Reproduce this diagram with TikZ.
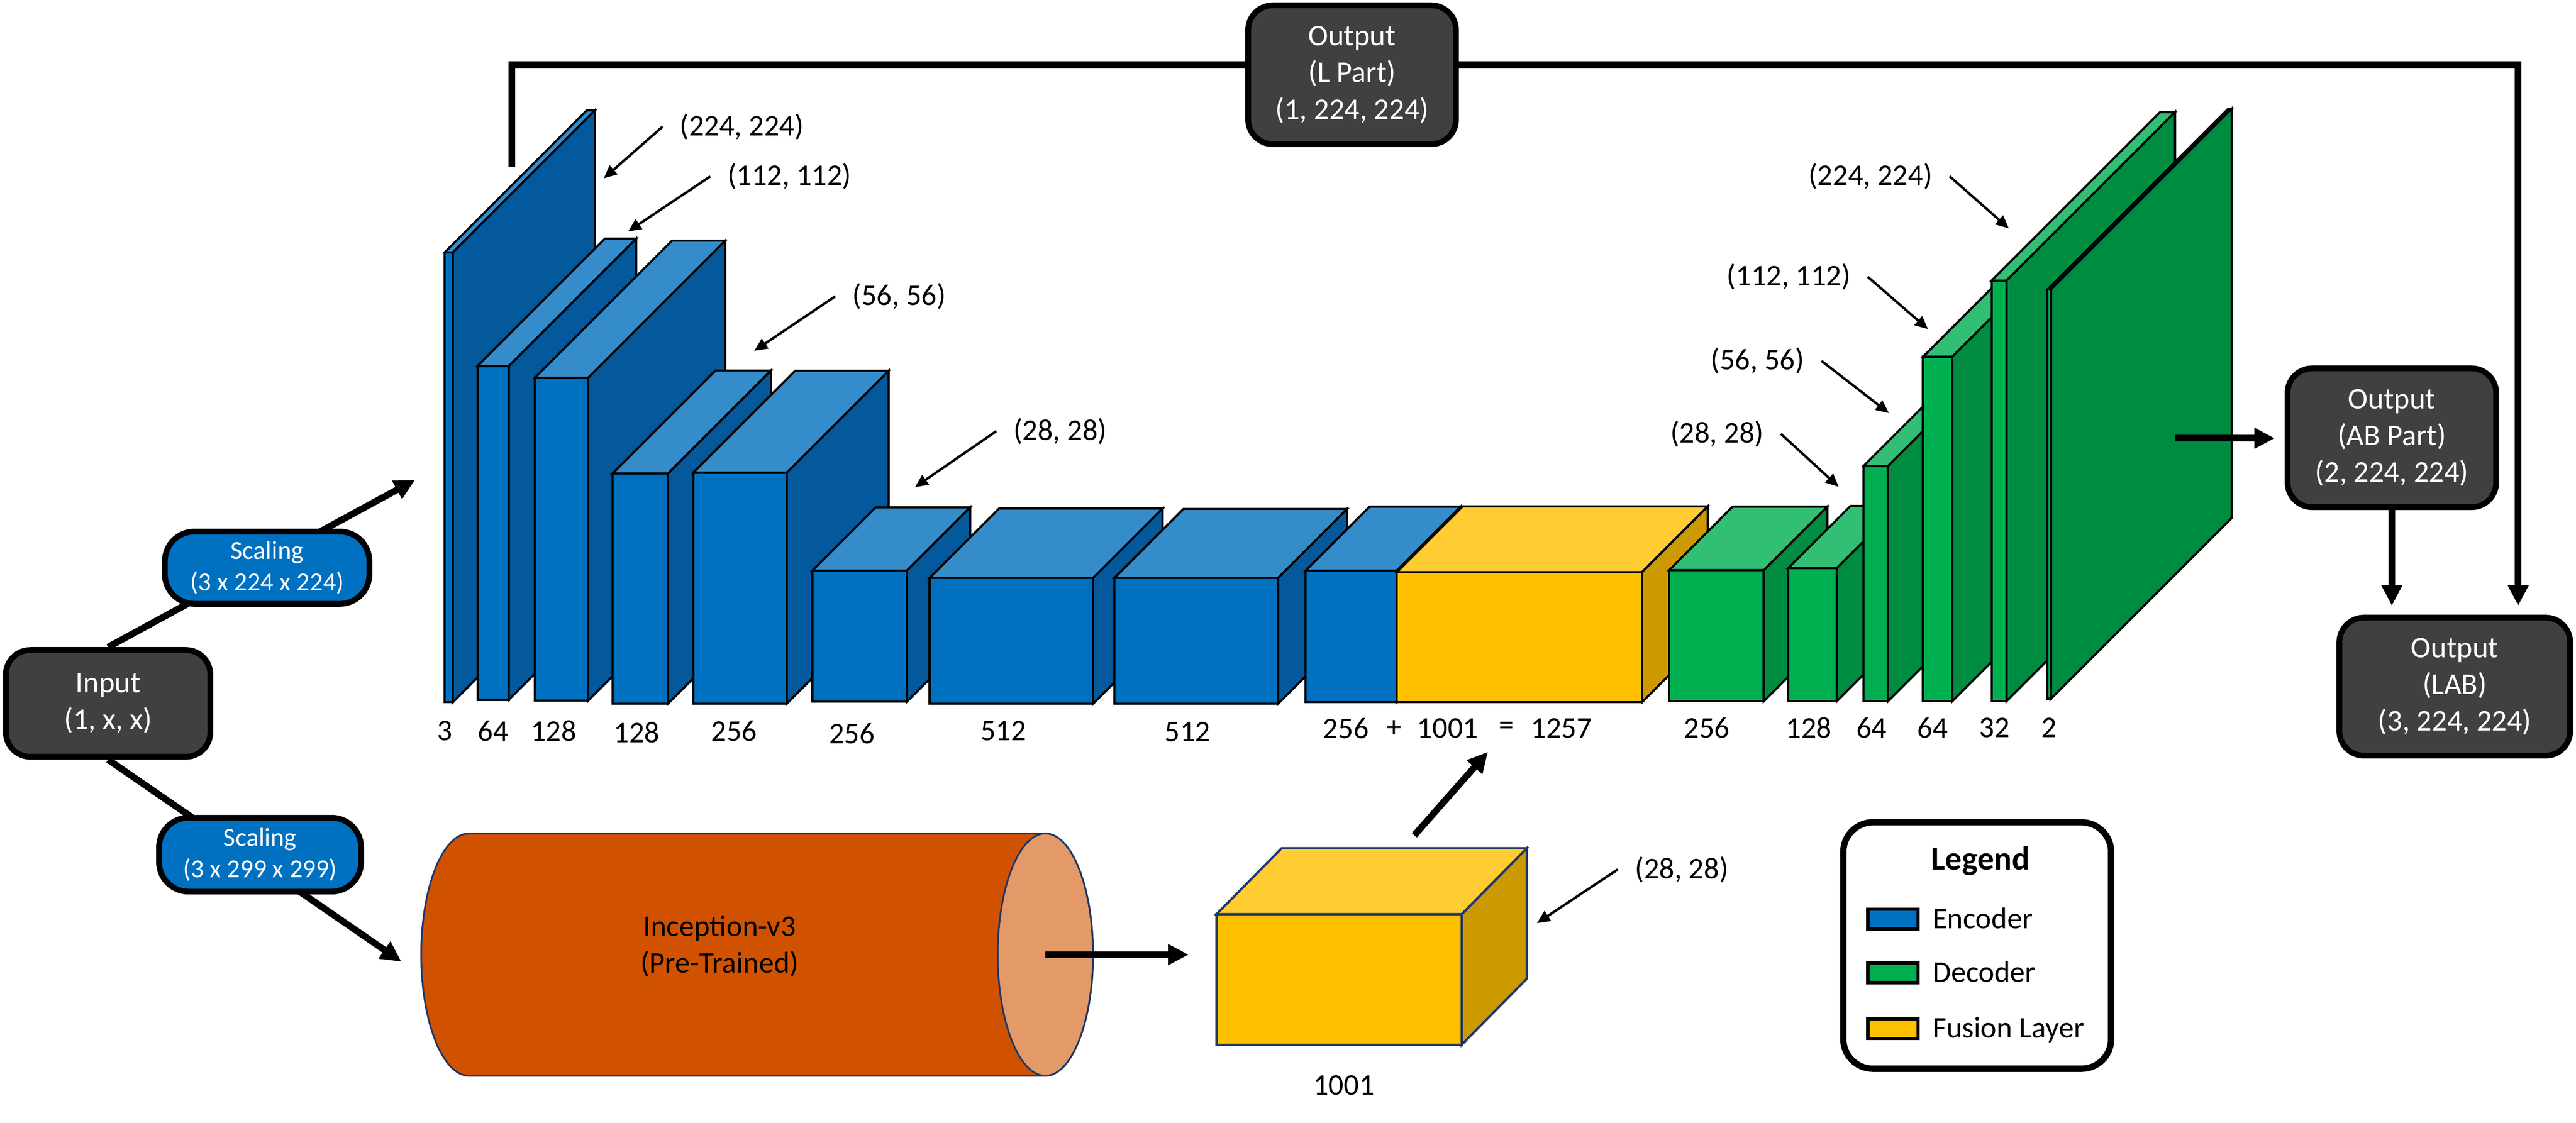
\documentclass[tikz,border=0pt]{standalone}
\usepackage{fontspec}
\setmainfont{Carlito}
\usepackage{tikz}
\tikzset{every picture/.style={x=0.2mm,y=-0.2mm}}
\usetikzlibrary{arrows.meta,positioning}

\definecolor{encF}{HTML}{0070C0}
\definecolor{encT}{HTML}{358CCB}
\definecolor{encS}{HTML}{03599C}
\definecolor{decF}{HTML}{00AF50}
\definecolor{decT}{HTML}{33BF73}
\definecolor{decS}{HTML}{008C40}
\definecolor{fusF}{HTML}{FFC000}
\definecolor{fusT}{HTML}{FFCD33}
\definecolor{fusS}{HTML}{CC9A00}
\definecolor{boxgray}{HTML}{404040}
\definecolor{incepC}{HTML}{D05200}
\definecolor{incepCap}{HTML}{E39A68}
\definecolor{navy}{HTML}{203864}

% layer block: left x, top y, width, bottom y, depth, colour set
\newcommand{\convlayer}[6]{%
  \filldraw[fill=#6F, line width=0.75pt] (#1,#2) rectangle (#1+#3,#4);
  \filldraw[fill=#6T, line width=0.75pt] (#1,#2) -- ++(#5,-#5) -- ++(#3,0) -- (#1+#3,#2) -- cycle;
  \filldraw[fill=#6S, line width=0.75pt] (#1+#3,#2) -- ++(#5,-#5) -- ++(0,#4-#2) -- (#1+#3,#4) -- cycle;
}

\begin{document}
\begin{tikzpicture}[
    font=\fontsize{10.4}{12.7}\selectfont,
    outbox/.style={draw=black, line width=2pt, fill=boxgray, text=white, rounded corners=3mm, align=center, inner sep=0pt},
    scalebox/.style={draw=black, line width=2pt, fill=encF, text=white, rounded corners=3.6mm, align=center, inner sep=0pt, font=\fontsize{9}{10.9}\selectfont},
    lbl/.style={inner sep=0pt, outer xsep=2.1mm, outer ysep=0pt},
    num/.style={inner sep=0pt},
    bigarrow/.style={line width=2.3pt, -{Triangle[length=2.5mm,width=2.4mm]}},
    ptr/.style={line width=0.85pt, -{Triangle[length=1.6mm,width=1.4mm]}},
    swatch/.style={draw=black, line width=1.2pt, minimum width=6.1mm, minimum height=2.4mm, inner sep=0pt},
    legtext/.style={inner sep=0pt, text height=1.6ex, text depth=0.25ex}
]
\useasboundingbox (0,0) rectangle (1568,683.4);

% outputs
\node[outbox, minimum width=24.9mm, minimum height=13mm] (input) at (65.8,428.2) {Input\\(1, x, x)};
\node[outbox, minimum width=25.4mm, minimum height=16.9mm] (ab) at (1455.9,266.5) {Output\\(AB Part)\\(2, 224, 224)};
\node[outbox, minimum width=28.1mm, minimum height=16.8mm] (lab) at (1494.2,418) {Output\\(LAB)\\(3, 224, 224)};

% L channel skip
\coordinate (lsrc) at (311.5,101.5);
\coordinate (lturn) at (1532.8,39.5);
\draw[bigarrow, shorten >=1.1mm] (lsrc) |- (lturn) -- (lturn |- lab.north);
\node[outbox, minimum width=25.3mm, minimum height=16.9mm] (lpart) at (823,45.5) {Output\\(L Part)\\(1, 224, 224)};

% encoder
\convlayer{270.6}{153.7}{5}{427.5}{86.5}{enc}
\convlayer{290.7}{222.8}{19}{426}{77.5}{enc}
\convlayer{325.6}{230}{32.4}{426.6}{83.5}{enc}
\convlayer{372.8}{288.3}{33.8}{428.4}{62.7}{enc}
\convlayer{422}{287.7}{56.9}{428.4}{62}{enc}
\convlayer{494.4}{347.4}{57.6}{427.2}{38.6}{enc}
\convlayer{565.9}{351.8}{99.5}{428.4}{42.2}{enc}
\convlayer{678.4}{351.8}{99.6}{428.4}{42}{enc}
\convlayer{794.7}{347.4}{55.5}{427.5}{39}{enc}
% fusion
\convlayer{850.2}{348.3}{149.3}{427.5}{40}{fus}
% decoder
\convlayer{1016}{347.1}{57.6}{426.9}{38.7}{dec}
\convlayer{1088.6}{345.8}{29.5}{426.9}{37.8}{dec}
\convlayer{1134.3}{283.7}{14.9}{426.9}{55}{dec}
\convlayer{1170.5}{217.2}{17.8}{426.9}{60}{dec}
\convlayer{1212.3}{170.8}{9.1}{426.8}{102.5}{dec}
\convlayer{1246.3}{176.2}{2.1}{425.4}{110}{dec}

% sizes
\node[lbl] (e224) at (451.5,77.1) {(224, 224)};
\node[lbl] (e112) at (480.5,107.4) {(112, 112)};
\node[lbl] (e56) at (547.3,180.4) {(56, 56)};
\node[lbl] (e28) at (645.3,262.5) {(28, 28)};
\coordinate (e224t) at (367.5,108.6);
\coordinate (e112t) at (382.3,140.9);
\coordinate (e56t) at (459.1,213.6);
\coordinate (e28t) at (556.9,296.6);
\draw[ptr] (e224.west) -- (e224t);
\draw[ptr] (e112.west) -- (e112t);
\draw[ptr] (e56.west) -- (e56t);
\draw[ptr] (e28.west) -- (e28t);

\node[lbl] (d224) at (1138.5,107.3) {(224, 224)};
\node[lbl] (d112) at (1088.8,168.6) {(112, 112)};
\node[lbl] (d56) at (1069.8,219.7) {(56, 56)};
\node[lbl] (d28) at (1045.1,264.1) {(28, 28)};
\coordinate (d224t) at (1222.8,139.1);
\coordinate (d112t) at (1173.6,200.4);
\coordinate (d56t) at (1149.8,251.5);
\coordinate (d28t) at (1119.2,296.4);
\draw[ptr] (d224.east) -- (d224t);
\draw[ptr] (d112.east) -- (d112t);
\draw[ptr] (d56.east) -- (d56t);
\draw[ptr] (d28.east) -- (d28t);

% channels
\node[num] (c1) at (270.6,445) {3};
\node[num] (c2) at (300.2,445) {64};
\node[num] (c3) at (336.9,445) {128};
\node[num] (c4) at (387.6,446) {128};
\node[num] (c5) at (446.8,445) {256};
\node[num] (c6) at (518.5,446.5) {256};
\node[num] (c7) at (610.7,445) {512};
\node[num] (c8) at (722.9,445.5) {512};
\node[num] (c9) at (819.2,443.5) {256};
\node[num] (cplus) at (848.5,443.5) {+};
\node[num] (c10) at (881.2,443.5) {1001};
\node[num] (ceq) at (917.1,443.5) {=};
\node[num] (c11) at (950.5,443.5) {1257};
\node[num] (c12) at (1039,443) {256};
\node[num] (c13) at (1101,443) {128};
\node[num] (c14) at (1139.2,443) {64};
\node[num] (c15) at (1176.4,443) {64};
\node[num] (c16) at (1214,443) {32};
\node[num] (c17) at (1247.4,443) {2};

% input branches
\coordinate (encin) at (252.6,292.2);
\draw[bigarrow] (input.north) -- (encin);
\node[scalebox, minimum width=24.9mm, minimum height=8.8mm] (scale1) at (162.6,345.6) {Scaling\\(3 x 224 x 224)};
\coordinate (incin) at (244.3,585.4);
\draw[bigarrow] (input.south) -- (incin);
\node[scalebox, minimum width=24.6mm, minimum height=9mm] (scale2) at (158.3,520.3) {Scaling\\(3 x 299 x 299)};

% inception
\filldraw[fill=incepC, draw=navy, line width=0.6pt] (636.3,507.4) -- (285.4,507.4)
    arc[start angle=90, end angle=270, x radius=5.8mm, y radius=14.75mm] -- (636.3,654.9)
    arc[start angle=270, end angle=450, x radius=5.8mm, y radius=14.75mm] -- cycle;
\filldraw[fill=incepCap, draw=navy, line width=0.6pt] (636.3,581.15) ellipse [x radius=5.8mm, y radius=14.75mm];
\node[inner sep=0pt, align=center] (incep) at (438,576.1) {Inception-v3\\(Pre-Trained)};
\coordinate (capc) at (636.3,581.15);

% fusion input
\node[draw=navy, fill=fusF, line width=0.8pt, minimum width=29.86mm, minimum height=15.88mm, inner sep=0pt, outer sep=0pt] (fcube) at (815.15,596.2) {};
\filldraw[fill=fusT, draw=navy, line width=0.8pt] (fcube.north west) -- ++(39.6,-40.1) -- ++(149.3,0) -- (fcube.north east) -- cycle;
\filldraw[fill=fusS, draw=navy, line width=0.8pt] (fcube.north east) -- ++(39.6,-40.1) -- ++(0,79.4) -- (fcube.south east) -- cycle;
\node[num] (c1001) at (818,660.7) {1001};
\node[lbl] (f28) at (1023.6,529.3) {(28, 28)};
\coordinate (f28t) at (935.5,562);
\draw[ptr] (f28.west) -- (f28t);
\draw[bigarrow, shorten >=3.4mm] (capc) -- (capc -| fcube.west);
\coordinate (cubeout) at (860.9,508.5);
\coordinate (fusin) at (905.7,457.7);
\draw[bigarrow] (cubeout) -- (fusin);

% outputs arrows
\coordinate (decout) at (1323.9,266.8);
\draw[bigarrow, shorten >=1.2mm] (decout) -- (decout -| ab.west);
\draw[bigarrow, shorten >=1.1mm] (ab.south) -- (ab.south |- lab.north);

% legend
\node[draw=black, line width=2.2pt, rounded corners=3.6mm, minimum width=32.6mm, minimum height=30mm] (legend) at (1203.5,575.6) {};
\node[inner sep=0pt, font=\fontsize{11.5}{14}\selectfont\bfseries] (legtitle) at (1205.5,524) {Legend};
\node[swatch, fill=encF] (swenc) at (1152.3,559.5) {};
\node[swatch, fill=decF] (swdec) at (1152.3,592.3) {};
\node[swatch, fill=fusF] (swfus) at (1152.3,626.2) {};
\node[legtext, right=1.5mm of swenc] (txenc) {Encoder};
\node[legtext, right=1.5mm of swdec] (txdec) {Decoder};
\node[legtext, right=1.5mm of swfus] (txfus) {Fusion Layer};
\end{tikzpicture}
\end{document}
